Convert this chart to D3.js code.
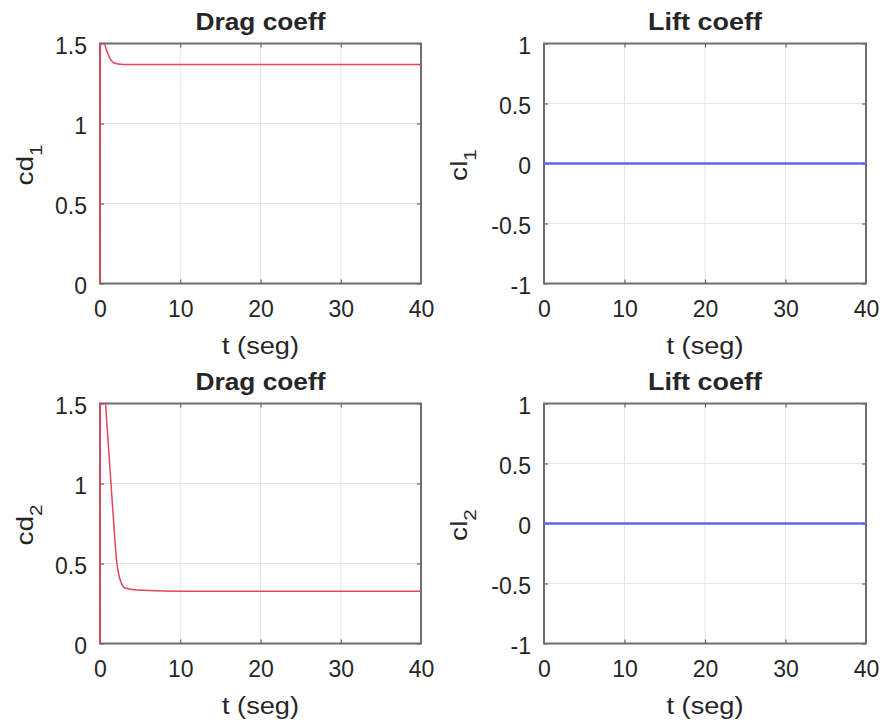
<!DOCTYPE html>
<html>
<head>
<meta charset="utf-8">
<script src="https://cdn.jsdelivr.net/npm/d3@7"></script>
<style>
  html, body { margin: 0; padding: 0; background: #fff; }
  svg { display: block; }
  text { font-family: "Liberation Sans", Arial, Helvetica, sans-serif; fill: #262626; }
</style>
</head>
<body>
<svg id="fig" width="884" height="724"></svg>
<script>
// Time samples and coefficient histories
const tCd1 = [0, 0.03, 0.12, 0.35, 0.6, 0.83, 1.0, 1.25, 1.66, 2.0, 2.5, 3.0, 5, 10, 20, 30, 40];
const cd1  = [0, 1.25, 1.9, 1.75, 1.5, 1.458, 1.435, 1.406, 1.381, 1.375, 1.370, 1.369, 1.368, 1.368, 1.368, 1.368, 1.368];

const tCd2 = [0, 0.03, 0.12, 0.4, 0.7, 1.04, 1.37, 1.7, 2.08, 2.3, 2.6, 2.9, 3.2, 4, 6, 10, 20, 30, 40];
const cd2  = [0, 1.3, 1.9, 1.8, 1.5, 1.24, 1.0, 0.76, 0.51, 0.44, 0.385, 0.356, 0.345, 0.338, 0.332, 0.327, 0.326, 0.326, 0.326];

const tCl = [0, 10, 20, 30, 40];
const cl1 = [0, 0, 0, 0, 0];
const cl2 = [0, 0, 0, 0, 0];

const xTicks = [0, 10, 20, 30, 40];
const cdTicks = [0, 0.5, 1, 1.5];
const clTicks = [-1, -0.5, 0, 0.5, 1];

const titles = ["Drag coeff", "Lift coeff", "Drag coeff", "Lift coeff"];
const yNames = [["cd", "1"], ["cl", "1"], ["cd", "2"], ["cl", "2"]];
const xName = "t (seg)";

const RED = "#e8435a";
const BLUE = "#6464f2";

const svg = d3.select("#fig");

const panels = [
  { x0: 100, x1: 421, y0: 43.5, y1: 283.5, t: tCd1, v: cd1, dom: [0, 1.5], ticks: cdTicks, color: RED, width: 1.5, labOff: 67, titleLen: 130 },
  { x0: 544, x1: 866, y0: 43.5, y1: 283.5, t: tCl, v: cl1, dom: [-1, 1], ticks: clTicks, color: BLUE, width: 2.4, labOff: 77, titleLen: 114 },
  { x0: 100, x1: 421, y0: 403.5, y1: 643.5, t: tCd2, v: cd2, dom: [0, 1.5], ticks: cdTicks, color: RED, width: 1.5, labOff: 67, titleLen: 130 },
  { x0: 544, x1: 866, y0: 403.5, y1: 643.5, t: tCl, v: cl2, dom: [-1, 1], ticks: clTicks, color: BLUE, width: 2.4, labOff: 77, titleLen: 114 }
];

const fmt = d => String(d);

panels.forEach((p, i) => {
  const x = d3.scaleLinear().domain([0, 40]).range([p.x0, p.x1]);
  const y = d3.scaleLinear().domain(p.dom).range([p.y1, p.y0]);
  const g = svg.append("g");

  // grid
  g.append("g").selectAll("line").data(xTicks).join("line")
    .attr("x1", d => x(d)).attr("x2", d => x(d))
    .attr("y1", p.y0).attr("y2", p.y1)
    .attr("stroke", "#e6e6e6").attr("stroke-width", 1);
  g.append("g").selectAll("line").data(p.ticks).join("line")
    .attr("x1", p.x0).attr("x2", p.x1)
    .attr("y1", d => y(d)).attr("y2", d => y(d))
    .attr("stroke", "#e6e6e6").attr("stroke-width", 1);

  // axes with inward ticks on all four sides
  const tl = 4;
  const bottom = g.append("g").attr("transform", `translate(0,${p.y1})`)
    .call(d3.axisBottom(x).tickValues(xTicks).tickSize(-tl).tickPadding(14).tickFormat(fmt));
  g.append("g").attr("transform", `translate(0,${p.y0})`)
    .call(d3.axisTop(x).tickValues(xTicks).tickSize(-tl).tickFormat(""));
  const left = g.append("g").attr("transform", `translate(${p.x0},0)`)
    .call(d3.axisLeft(y).tickValues(p.ticks).tickSize(-tl).tickPadding(13).tickFormat(fmt));
  g.append("g").attr("transform", `translate(${p.x1},0)`)
    .call(d3.axisRight(y).tickValues(p.ticks).tickSize(-tl).tickFormat(""));

  g.selectAll(".domain").remove();
  g.selectAll(".tick line").attr("stroke", "#4d4d4d").attr("stroke-width", 1);
  bottom.selectAll("text").attr("font-size", 23).attr("fill", "#262626")
    .attr("dy", null).attr("y", 33);
  left.selectAll("text").attr("font-size", 23).attr("fill", "#262626")
    .attr("dy", "0.42em");

  // box
  g.append("rect")
    .attr("x", p.x0).attr("y", p.y0)
    .attr("width", p.x1 - p.x0).attr("height", p.y1 - p.y0)
    .attr("fill", "none").attr("stroke", "#6e6e6e").attr("stroke-width", 2);

  // data line, drawn over the box and clipped just outside it
  const cid = "clip" + i;
  svg.append("clipPath").attr("id", cid).append("rect")
    .attr("x", p.x0 - 1).attr("y", p.y0 - 1)
    .attr("width", p.x1 - p.x0 + 2).attr("height", p.y1 - p.y0 + 2);
  const line = d3.line().x(d => x(d[0])).y(d => y(d[1])).curve(d3.curveMonotoneX);
  g.append("path")
    .datum(p.t.map((t, k) => [t, p.v[k]]))
    .attr("clip-path", `url(#${cid})`)
    .attr("d", line)
    .attr("fill", "none")
    .attr("stroke", p.color)
    .attr("stroke-width", p.width)
    .attr("stroke-linejoin", "round");

  const cx = (p.x0 + p.x1) / 2;
  const cy = (p.y0 + p.y1) / 2;

  // title
  g.append("text")
    .attr("x", cx).attr("y", p.y0 - 13.5)
    .attr("text-anchor", "middle")
    .attr("font-size", 23).attr("font-weight", "bold").attr("fill", "#111")
    .attr("textLength", p.titleLen).attr("lengthAdjust", "spacingAndGlyphs")
    .text(titles[i]);

  // x label
  g.append("text")
    .attr("x", cx).attr("y", p.y1 + 70)
    .attr("text-anchor", "middle")
    .attr("font-size", 23)
    .attr("textLength", 77).attr("lengthAdjust", "spacingAndGlyphs")
    .text(xName);

  // y label with subscript, stretched along the reading direction
  const yl = g.append("text")
    .attr("transform", `translate(${p.x0 - p.labOff},${cy + 1.5}) rotate(-90) scale(1.22,1)`)
    .attr("text-anchor", "middle")
    .attr("font-size", 23);
  yl.append("tspan").text(yNames[i][0]);
  yl.append("tspan").attr("font-size", 17).attr("dy", "0.5em").text(yNames[i][1]);
});
</script>
</body>
</html>
